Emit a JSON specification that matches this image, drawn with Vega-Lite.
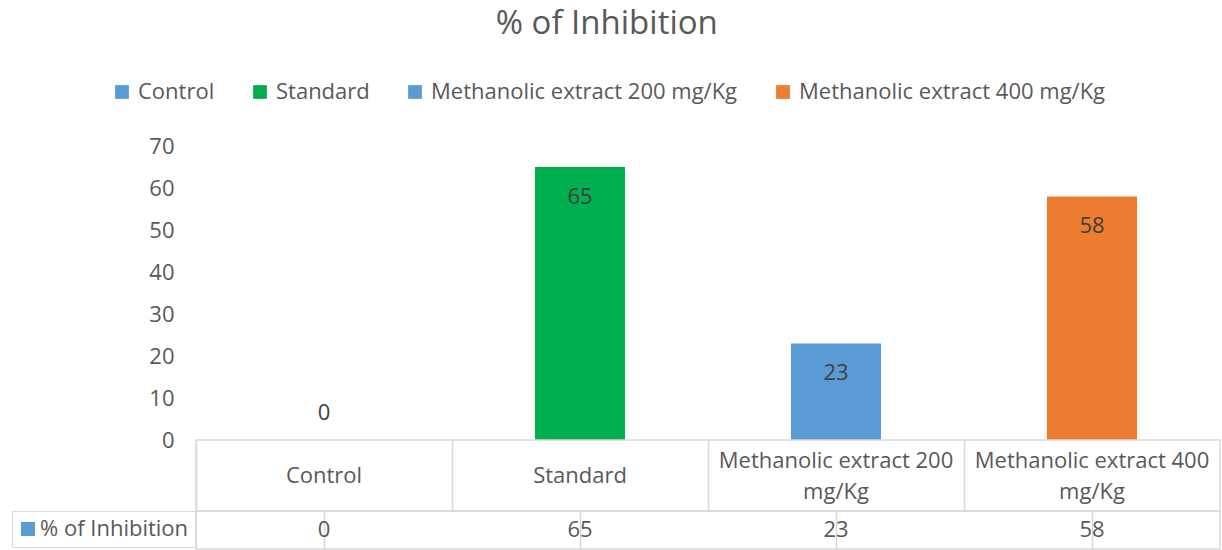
{
  "$schema": "https://vega.github.io/schema/vega-lite/v6.json",
  "background": "white",
  "padding": {"left": 10, "top": 8, "right": 3, "bottom": 0},
  "bounds": "flush",
  "title": {"text": "% of Inhibition", "fontSize": 33, "font": "Open Sans", "fontWeight": "normal", "color": "#595959", "anchor": "middle", "offset": 40, "dx": -9},
  "data": {"values": [
    {"category": "Control", "value": 0},
    {"category": "Standard", "value": 65},
    {"category": "Methanolic extract 200 mg/Kg", "value": 23},
    {"category": "Methanolic extract 400 mg/Kg", "value": 58}
  ]},
  "spacing": 0,
  "resolve": {"scale": {"color": "independent"}, "legend": {"color": "independent"}},
  "config": {
    "font": "Open Sans",
    "text": {"font": "Open Sans"},
    "axis": {"labelFont": "Open Sans"},
    "legend": {"labelFont": "Open Sans"}
  },
  "vconcat": [
    {
      "width": 1024,
      "height": 294,
      "view": {"stroke": null},
      "encoding": {
        "x": {"field": "category", "type": "nominal", "sort": null, "axis": null,
              "scale": {"paddingInner": 0.648, "paddingOuter": 0.324}},
        "y": {"field": "value", "type": "quantitative",
              "scale": {"domain": [0, 70]},
              "axis": {"values": [0, 10, 20, 30, 40, 50, 60, 70], "title": null, "domain": false, "ticks": false, "grid": false,
                       "labelFontSize": 22, "labelColor": "#595959", "labelPadding": 22}}
      },
      "layer": [
        {
          "mark": {"type": "bar"},
          "encoding": {
            "color": {"field": "category", "type": "nominal",
                      "scale": {"domain": ["Control", "Standard", "Methanolic extract 200 mg/Kg", "Methanolic extract 400 mg/Kg"],
                                "range": ["#5b9bd5", "#00b050", "#5b9bd5", "#ed7d31"]},
                      "legend": {"title": null, "orient": "none", "direction": "horizontal", "legendX": -85, "legendY": -65,
                                 "symbolType": "square", "symbolSize": 190, "symbolStrokeWidth": 0,
                                 "labelFontSize": 22, "labelColor": "#595959", "labelOffset": 5, "columnPadding": 34, "padding": 0, "labelLimit": 400}}
          }
        },
        {
          "transform": [{"filter": "datum.value > 0"}],
          "mark": {"type": "text", "dy": 30, "baseline": "middle", "fontSize": 22, "color": "#404040"},
          "encoding": {"text": {"field": "value", "type": "quantitative"}}
        },
        {
          "transform": [{"filter": "datum.value == 0"}],
          "mark": {"type": "text", "dy": -27, "baseline": "middle", "fontSize": 22, "color": "#404040"},
          "encoding": {"text": {"field": "value", "type": "quantitative"}}
        }
      ]
    },
    {
      "width": 1024,
      "height": 71,
      "view": {"stroke": "#d9d9d9", "strokeWidth": 1.5},
      "mark": {"type": "rect", "opacity": 0},
      "encoding": {
        "x": {"field": "category", "type": "nominal", "sort": null,
              "scale": {"paddingInner": 0, "paddingOuter": 0},
              "axis": {"title": null, "orient": "bottom", "domain": false, "ticks": false, "tickSize": 0,
                       "grid": true, "gridColor": "#d9d9d9", "gridWidth": 1.5, "bandPosition": 0,
                       "labelPadding": {"condition": {"test": "indexof(datum.label, 'Methanolic') == 0", "value": -51}, "value": -35.5},
                       "labelBaseline": "middle", "labelAngle": 0,
                       "labelFontSize": 22, "labelColor": "#595959", "labelLineHeight": 31,
                       "labelOverlap": false, "labelBound": false, "labelFlush": false, "labelLimit": 400,
                       "labelExpr": "indexof(datum.label, 'Methanolic') == 0 ? [slice(datum.label, 0, 22), slice(datum.label, 23)] : datum.label"}}
      }
    },
    {
      "width": 1024,
      "height": 38,
      "view": {"stroke": "#d9d9d9", "strokeWidth": 1.5},
      "encoding": {
        "x": {"field": "category", "type": "nominal", "sort": null,
              "scale": {"paddingInner": 0, "paddingOuter": 0},
              "axis": {"title": null, "domain": false, "ticks": false, "labels": false,
                       "grid": true, "gridColor": "#d9d9d9", "gridWidth": 1.5, "bandPosition": 0}}
      },
      "layer": [
        {
          "mark": {"type": "square", "opacity": 0},
          "encoding": {
            "color": {"datum": "% of Inhibition", "type": "nominal",
                      "scale": {"range": ["#5b9bd5"]},
                      "legend": {"title": null, "orient": "left", "offset": 0, "padding": 7,
                                 "strokeColor": "#d9d9d9",
                                 "symbolType": "square", "symbolSize": 196, "symbolOpacity": 1, "symbolStrokeWidth": 0, "symbolOffset": -2,
                                 "labelFontSize": 22, "labelColor": "#595959", "labelOffset": 1, "labelLimit": 400}}
          }
        },
        {
          "mark": {"type": "text", "baseline": "middle", "fontSize": 22, "color": "#595959"},
          "encoding": {"text": {"field": "value", "type": "quantitative"}}
        }
      ]
    }
  ]
}
